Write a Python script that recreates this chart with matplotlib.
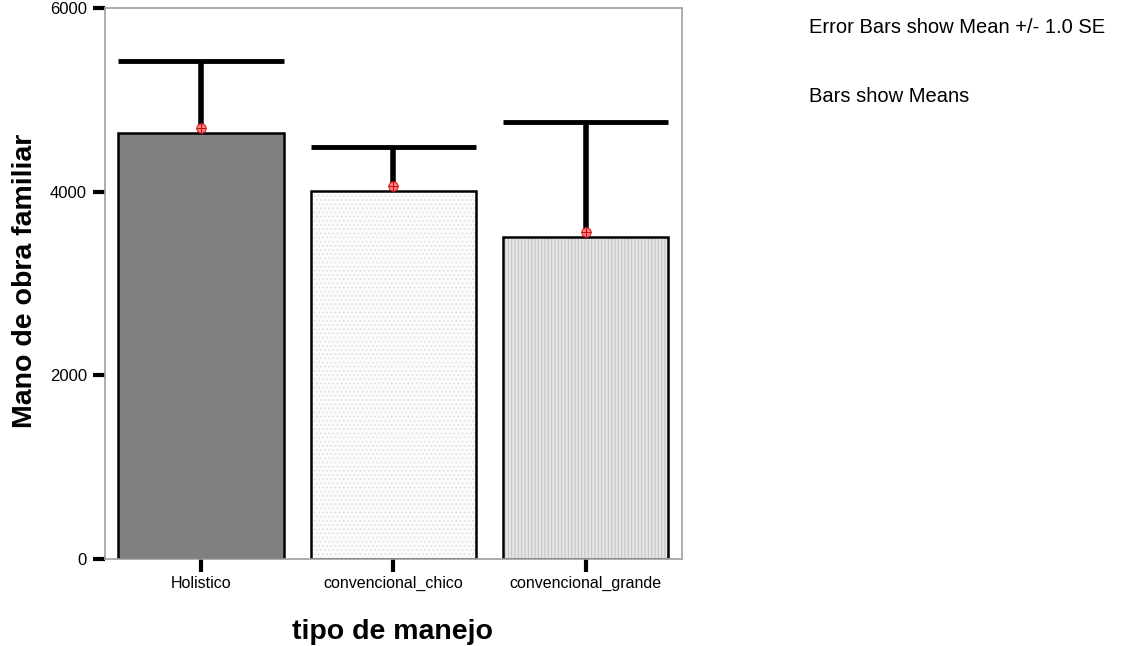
import matplotlib
matplotlib.use("Agg")
import matplotlib.pyplot as plt
from matplotlib.transforms import offset_copy

plt.rcParams['font.family'] = ['Liberation Sans', 'DejaVu Sans']
plt.rcParams['hatch.linewidth'] = 0.8

categories = ["Holistico", "convencional_chico", "convencional_grande"]
means = [4640, 4010, 3510]
se = [788, 480, 1250]
yticks = [0, 2000, 4000, 6000]

face_colors = ["#808080", "#fbfbfb", "#e6e6e6"]
hatches = [None, "....", "|||||"]
hatch_colors = ["#808080", "#e2e2e2", "#c4c4c4"]

fig = plt.figure(figsize=(11.24, 6.46), dpi=100)
ax = fig.add_axes([0.0934, 0.1347, 0.5133, 0.8529])

x = list(range(len(categories)))

# error bars (upper half visible above each bar)
for xi, m, s in zip(x, means, se):
    ax.plot([xi, xi], [m, m + s], color="black", lw=4, solid_capstyle="butt", zorder=1)
    ax.plot([xi - 0.43, xi + 0.43], [m + s, m + s], color="black", lw=3.5,
            solid_capstyle="butt", zorder=1)

bars = ax.bar(x, means, width=0.86, color=face_colors, edgecolor="black",
              linewidth=1.8, zorder=2)
for b, h, hc in zip(bars, hatches, hatch_colors):
    if h:
        b.set_hatch(h)
        b._hatch_color = matplotlib.colors.to_rgba(hc)

# mean markers
mk_tr = offset_copy(ax.transData, fig=fig, x=0, y=5, units="dots")
ax.scatter(x, means, s=45, marker="o", facecolor="#ff8080", edgecolor="#e02020",
           linewidths=0.8, zorder=3, transform=mk_tr)
ax.scatter(x, means, s=45, marker="+", color="#c01010", linewidths=0.7, zorder=4,
           transform=mk_tr)

ax.set_xlim(-0.5, 2.5)
ax.set_ylim(0, 6000)
ax.set_xticks(x)
ax.set_xticklabels(categories, fontsize=11.5)
ax.set_yticks(yticks)
ax.set_yticklabels([str(t) for t in yticks], fontsize=12)
ax.tick_params(axis="both", direction="out", length=9, width=3, color="black", pad=4)
ax.tick_params(axis="x", pad=3)

for sp in ax.spines.values():
    sp.set_color("#a0a0a0")
    sp.set_linewidth(1.2)

fig.text(25 / 1124, 1 - 281 / 646, "Mano de obra familiar", fontsize=20.5,
         fontweight="bold", rotation=90, ha="center", va="center")
fig.text(393 / 1124, 1 - 632 / 646, "tipo de manejo", fontsize=20.5,
         fontweight="bold", ha="center", va="center")

fig.text(0.7197, 0.957, "Error Bars show Mean +/- 1.0 SE", fontsize=14.5, va="center")
fig.text(0.7197, 0.851, "Bars show Means", fontsize=14.5, va="center")

fig.savefig("out.png", dpi=100)
